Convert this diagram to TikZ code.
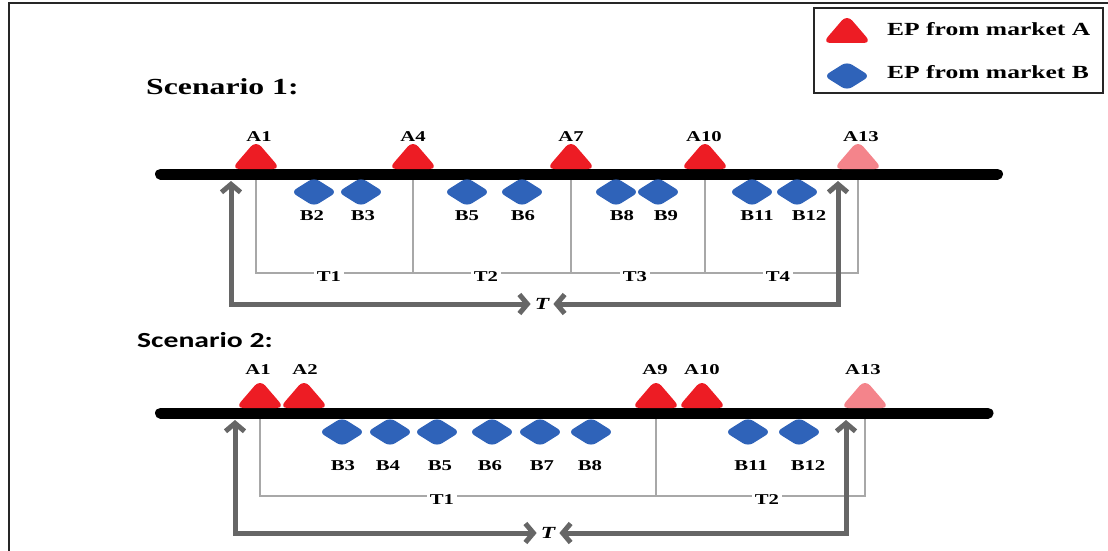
\documentclass[tikz,border=0pt]{standalone}
\usepackage{fontspec}
\setmainfont{Liberation Serif}[FakeStretch=1.38]
\newfontfamily\scenfont{Carlito}[FakeStretch=1.38]
\usetikzlibrary{shapes.geometric,arrows.meta}

\definecolor{epred}{HTML}{ED1C24}
\definecolor{eppink}{HTML}{F4848B}
\definecolor{epblue}{HTML}{2F63B9}
\definecolor{brkgray}{HTML}{A8A8A8}
\definecolor{arrgray}{HTML}{666666}

\tikzset{
  pics/eptri/.style={code={
    \fill[#1, rounded corners=8pt] (-24.5,1) -- (0,-27.5) -- (24.5,1) -- cycle;
    \coordinate (-base) at (0,0);}},
  epB/.style={diamond, fill=epblue, draw=none, minimum width=46pt,
    minimum height=29pt, inner sep=0pt, rounded corners=6pt},
  lab/.style={font=\fontsize{15}{17}\selectfont\bfseries, inner sep=0pt},
  tlab/.style={font=\fontsize{15}{17}\selectfont\bfseries, fill=white,
    inner sep=3pt},
  italT/.style={font=\fontsize{17}{19}\selectfont\bfseries\itshape,
    inner sep=4pt},
  legtxt/.style={font=\fontsize{18.5}{21}\selectfont\bfseries, inner sep=0pt,
    anchor=west},
  axis/.style={line width=11pt, line cap=round, draw=black},
  bracket/.style={draw=brkgray, line width=2pt},
  bigarr/.style={draw=arrgray, line width=5pt,
    {Straight Barb[length=8pt,width=19pt]}-{Straight Barb[length=8pt,width=19pt]}},
}

\begin{document}
\begin{tikzpicture}[x=1pt,y=-1pt]
\useasboundingbox (0,0) rectangle (1108,551);

% outer frame (top and left edges)
\draw[line width=2pt, draw=black!85] (9,551) -- (9,3) -- (1108,3);

% legend
\node[draw=black!85, line width=2pt, minimum width=289pt, minimum height=85pt,
      inner sep=0pt, anchor=north west] (legend) at (813,7) {};
\pic (legA) at (847,42) {eptri=epred};
\node[epB] (legB) at (847,76) {};
\node[legtxt] (legAt) at (887,29) {EP from market A};
\node[legtxt] (legBt) at (887,72) {EP from market B};

% ---------------- Scenario 1 ----------------
\node[anchor=west, inner sep=0pt, font=\fontsize{23}{26}\selectfont\bfseries]
  (sc1) at (146,87) {Scenario 1:};

\coordinate (ax1s) at (160.5,174);
\coordinate (ax1e) at (997.5,174);

\coordinate (a1) at (256,168);
\coordinate (a4) at (413,168);
\coordinate (a7) at (571,168);
\coordinate (a10) at (705,168);
\coordinate (a13) at (858,168);

% bracket of intervals T1..T4
\coordinate (k1) at (256,273);
\coordinate (k2) at (413,273);
\coordinate (k3) at (571,273);
\coordinate (k4) at (705,273);
\coordinate (k5) at (858,273);
\draw[bracket] (a1) -- (k1) -- (k5) -- (a13);
\draw[bracket] (a4) -- (k2);
\draw[bracket] (a7) -- (k3);
\draw[bracket] (a10) -- (k4);
\node[tlab] (T1a) at (329,277) {T1};
\node[tlab] (T2a) at (486,277) {T2};
\node[tlab] (T3a) at (635,277) {T3};
\node[tlab] (T4a) at (778,277) {T4};

\draw[axis] (ax1s) -- (ax1e);

\pic (A1a) at (a1) {eptri=epred};
\pic (A4a) at (a4) {eptri=epred};
\pic (A7a) at (a7) {eptri=epred};
\pic (A10a) at (a10) {eptri=epred};
\pic (A13a) at (a13) {eptri=eppink};
\node[lab] (lA1a) at (259,137) {A1};
\node[lab] (lA4a) at (413,137) {A4};
\node[lab] (lA7a) at (571,137) {A7};
\node[lab] (lA10a) at (704,137) {A10};
\node[lab] (lA13a) at (861,137) {A13};

\node[epB] (B2a) at (314,192) {};
\node[epB] (B3a) at (361,192) {};
\node[epB] (B5a) at (467,192) {};
\node[epB] (B6a) at (522,192) {};
\node[epB] (B8a) at (616,192) {};
\node[epB] (B9a) at (658,192) {};
\node[epB] (B11a) at (752,192) {};
\node[epB] (B12a) at (797,192) {};
\node[lab] (lB2a) at (312,216) {B2};
\node[lab] (lB3a) at (363,216) {B3};
\node[lab] (lB5a) at (467,216) {B5};
\node[lab] (lB6a) at (523,216) {B6};
\node[lab] (lB8a) at (622,216) {B8};
\node[lab] (lB9a) at (666,216) {B9};
\node[lab] (lB11a) at (757,216) {B11};
\node[lab] (lB12a) at (809,216) {B12};

% total span T
\node[italT] (TTa) at (542,304) {T};
\coordinate (upLa) at (231,181);
\coordinate (upRa) at (838,181);
\draw[bigarr] (upLa) |- (TTa.west);
\draw[bigarr] (upRa) |- (TTa.east);

% ---------------- Scenario 2 ----------------
\node[anchor=west, inner sep=0pt, font=\scenfont\fontsize{21.5}{24}\selectfont\bfseries]
  (sc2) at (137,340) {Scenario 2:};

\coordinate (ax2s) at (160.5,413);
\coordinate (ax2e) at (988,413);

\coordinate (b1) at (260,407);
\coordinate (b2) at (304,407);
\coordinate (b9) at (656,407);
\coordinate (b10) at (702,407);
\coordinate (b13) at (865,407);

\coordinate (m1) at (260,496);
\coordinate (m2) at (656,496);
\coordinate (m3) at (865,496);
\draw[bracket] (b1) -- (m1) -- (m3) -- (b13);
\draw[bracket] (b9) -- (m2);
\node[tlab] (T1b) at (442,500) {T1};
\node[tlab] (T2b) at (767,500) {T2};

\draw[axis] (ax2s) -- (ax2e);

\pic (A1b) at (b1) {eptri=epred};
\pic (A2b) at (b2) {eptri=epred};
\pic (A9b) at (b9) {eptri=epred};
\pic (A10b) at (b10) {eptri=epred};
\pic (A13b) at (b13) {eptri=eppink};
\node[lab] (lA1b) at (258,370) {A1};
\node[lab] (lA2b) at (305,370) {A2};
\node[lab] (lA9b) at (655,370) {A9};
\node[lab] (lA10b) at (702,370) {A10};
\node[lab] (lA13b) at (863,370) {A13};

\node[epB] (B3b) at (342,432) {};
\node[epB] (B4b) at (390,432) {};
\node[epB] (B5b) at (437,432) {};
\node[epB] (B6b) at (492,432) {};
\node[epB] (B7b) at (540,432) {};
\node[epB] (B8b) at (591,432) {};
\node[epB] (B11b) at (748,432) {};
\node[epB] (B12b) at (799,432) {};
\node[lab] (lB3b) at (343,466) {B3};
\node[lab] (lB4b) at (388,466) {B4};
\node[lab] (lB5b) at (440,466) {B5};
\node[lab] (lB6b) at (490,466) {B6};
\node[lab] (lB7b) at (542,466) {B7};
\node[lab] (lB8b) at (590,466) {B8};
\node[lab] (lB11b) at (751,466) {B11};
\node[lab] (lB12b) at (808,466) {B12};

\node[italT] (TTb) at (548,533) {T};
\coordinate (upLb) at (235,420);
\coordinate (upRb) at (846,420);
\draw[bigarr] (upLb) |- (TTb.west);
\draw[bigarr] (upRb) |- (TTb.east);
\end{tikzpicture}
\end{document}
